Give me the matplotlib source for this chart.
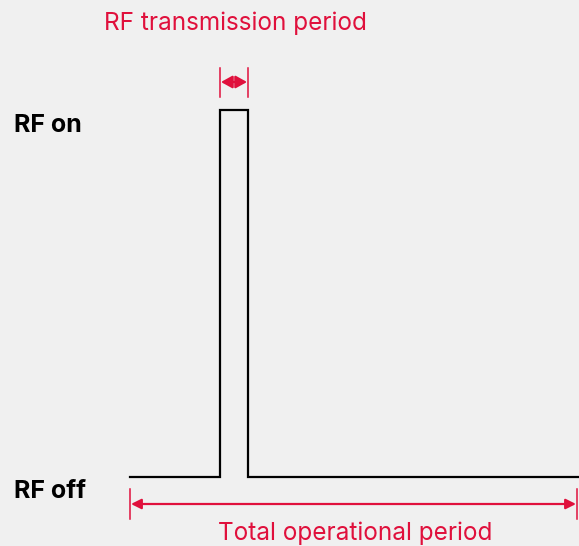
import matplotlib.pyplot as plt

# signal levels (pixel-space layout of the diagram)
sig_x = [130, 220, 220, 248, 248, 579]
sig_y = [477, 477, 110, 110, 477, 477]

pulse_start, pulse_end = 220, 248
period_start, period_end = 130, 577

red = '#e0103c'
bg = '#f0f0f0'

plt.rcParams['font.family'] = ['Inter', 'DejaVu Sans']

fig = plt.figure(figsize=(5.79, 5.46), dpi=100, facecolor=bg)
ax = fig.add_axes([0, 0, 1, 1])
ax.set_facecolor(bg)
ax.set_xlim(0, 579)
ax.set_ylim(546, 0)
ax.axis('off')

ax.plot(sig_x, sig_y, color='black', lw=1.6, solid_joinstyle='miter')

# transmission period marker
for x in (pulse_start, pulse_end):
    ax.plot([x, x], [68, 97], color=red, lw=1.1)
ax.annotate('', xy=(pulse_start + 1, 82), xytext=(pulse_end - 1, 82),
            arrowprops=dict(arrowstyle='<|-|>, head_length=0.45, head_width=0.25',
                            color=red, lw=1.6,
                            mutation_scale=15, shrinkA=0, shrinkB=0))

# total period marker
for x in (period_start, period_end):
    ax.plot([x, x], [489, 519], color=red, lw=1.1)
ax.annotate('', xy=(period_start + 1, 504), xytext=(period_end - 1, 504),
            arrowprops=dict(arrowstyle='<|-|>', color=red, lw=1.6,
                            mutation_scale=15, shrinkA=0, shrinkB=0))

ax.text(235, 23, 'RF transmission period', color=red, fontsize=17.5,
        ha='center', va='center')
ax.text(355, 533, 'Total operational period', color=red, fontsize=17.5,
        ha='center', va='center')
ax.text(14, 125, 'RF on', fontsize=18, fontweight='bold', ha='left', va='center')
ax.text(14, 492, 'RF off', fontsize=18, fontweight='bold', ha='left', va='center')

fig.savefig('out.png', dpi=100, facecolor=bg)
